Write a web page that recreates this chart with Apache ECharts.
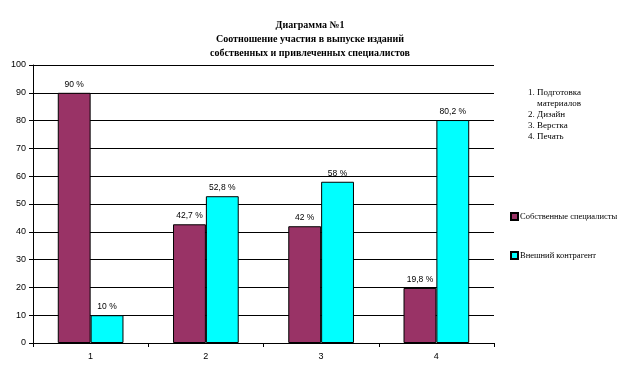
<!DOCTYPE html>
<html>
<head>
<meta charset="utf-8">
<script src="https://cdn.jsdelivr.net/npm/echarts@6/dist/echarts.min.js"></script>
<style>
html,body{margin:0;padding:0;background:#fff;}
#c{width:623px;height:388px;}
</style>
</head>
<body>
<div id="c"></div>
<script>
var categories = ['1', '2', '3', '4'];
var ownSpecialists = [90, 42.7, 42, 19.8];
var externalContractor = [10, 52.8, 58, 80.2];
var seriesNames = ['Собственные специалисты', 'Внешний контрагент'];
var titleLines = ['Диаграмма №1', 'Соотношение участия в выпуске изданий', 'собственных и привлеченных специалистов'];
var noteLines = ['1. Подготовка', '    материалов', '2. Дизайн', '3. Верстка', '4. Печать'];

var chart = echarts.init(document.getElementById('c'), null, {renderer: 'canvas'});
function fmt(p) { return String(p.value).replace('.', ',') + ' %'; }
var labelCfg = {show: true, position: 'top', formatter: fmt, color: '#000', fontFamily: 'Liberation Sans, Arial', fontSize: 8.5, distance: 4};
chart.setOption({
  animation: false,
  backgroundColor: '#fff',
  title: {
    text: titleLines.join('\n'),
    left: 305, top: 13, textAlign: 'center',
    textStyle: {fontFamily: 'Liberation Serif, Times New Roman', fontSize: 10, fontWeight: 'bold', color: '#000', lineHeight: 14}
  },
  grid: {left: 33, right: 129, top: 65, bottom: 45},
  legend: {
    orient: 'vertical', left: 505, top: 207, itemGap: 30,
    itemWidth: 7, itemHeight: 7, icon: 'rect',
    textStyle: {fontFamily: 'Liberation Serif, Times New Roman', fontSize: 8.5, color: '#000', padding: [0, 0, 0, -3]},
    data: seriesNames
  },
  graphic: [{
    type: 'text', left: 528, top: 87,
    style: {text: noteLines.join('\n'), font: '9px "Liberation Serif", "Times New Roman"', fill: '#000', lineHeight: 11}
  }],
  xAxis: {
    type: 'category', data: categories,
    axisLine: {lineStyle: {color: '#000', width: 1}},
    axisTick: {show: true, length: 4, lineStyle: {color: '#000'}},
    axisLabel: {color: '#000', fontFamily: 'Liberation Sans, Arial', fontSize: 9, margin: 9}
  },
  yAxis: {
    type: 'value', min: 0, max: 100, interval: 10,
    axisLine: {show: true, lineStyle: {color: '#000', width: 1}},
    axisTick: {show: true, length: 4, lineStyle: {color: '#000'}},
    axisLabel: {color: '#000', fontFamily: 'Liberation Sans, Arial', fontSize: 9, margin: 7},
    splitLine: {show: true, lineStyle: {color: '#000', width: 1}}
  },
  series: [
    {name: seriesNames[0], type: 'bar', data: ownSpecialists, barGap: '0%', barCategoryGap: '43%',
     itemStyle: {color: '#993366', borderColor: '#000', borderWidth: 1}, label: labelCfg},
    {name: seriesNames[1], type: 'bar', data: externalContractor,
     itemStyle: {color: '#00ffff', borderColor: '#000', borderWidth: 1}, label: labelCfg}
  ]
});
</script>
</body>
</html>
